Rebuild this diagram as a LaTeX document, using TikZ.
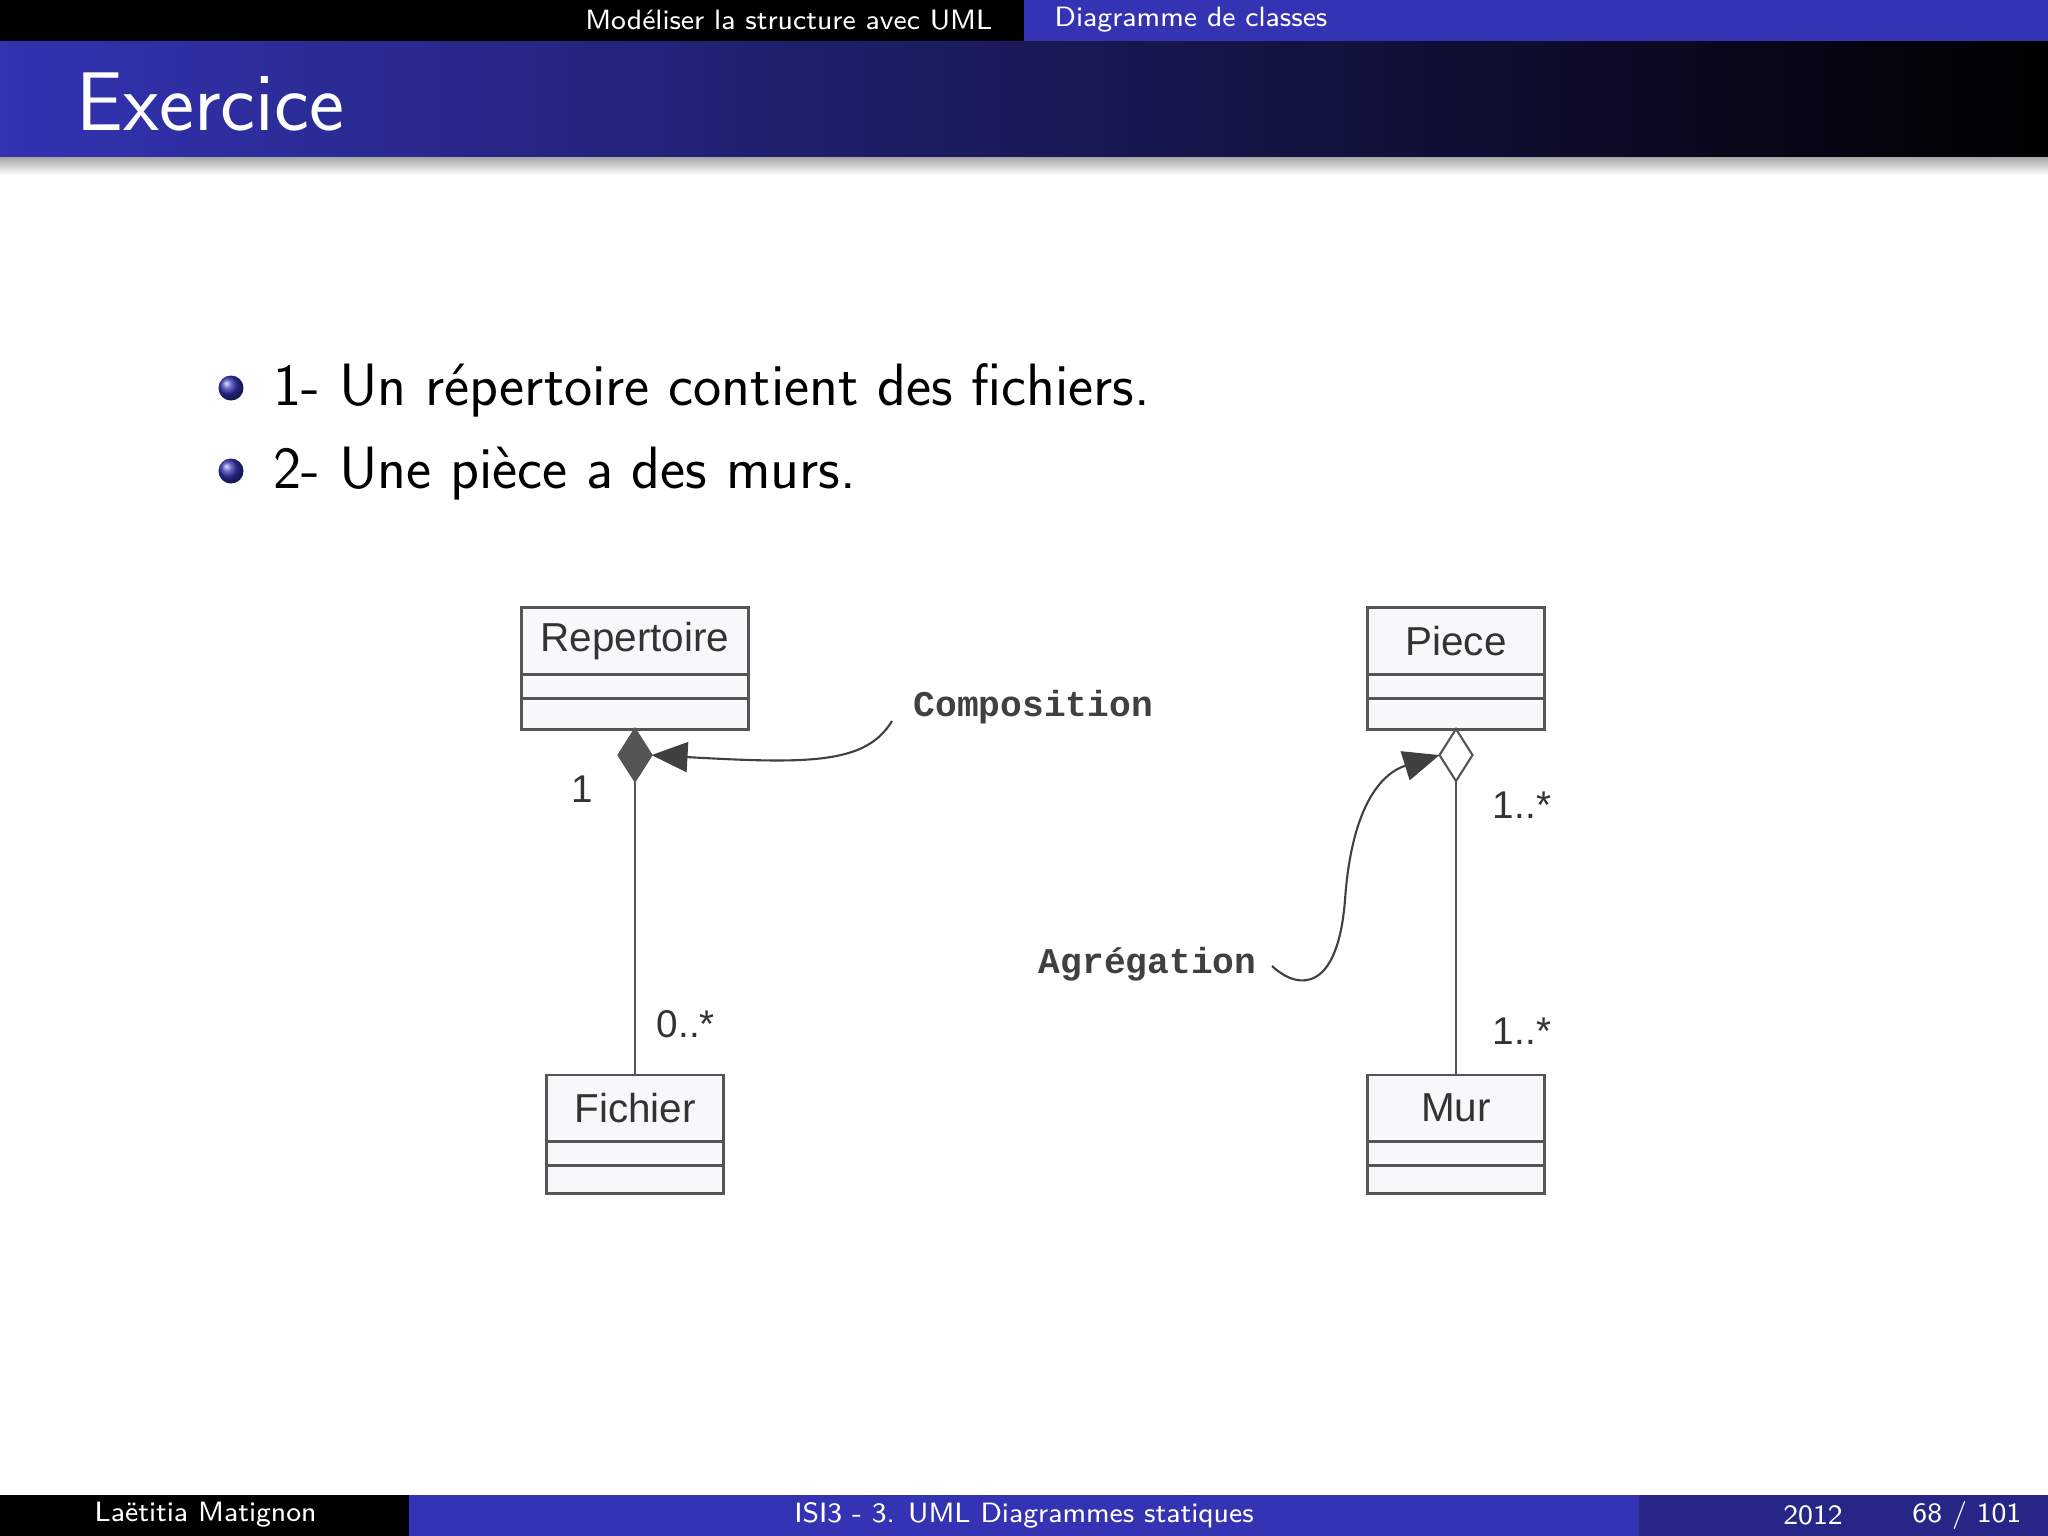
\documentclass[tikz,border=0pt]{standalone}
\usepackage{fontspec}
\newfontfamily\umlfont{Liberation Sans}
\newfontfamily\notefont{Liberation Mono}
\usetikzlibrary{positioning}
\usetikzlibrary{shapes.geometric}
\usetikzlibrary{arrows.meta}
\definecolor{structblue}{RGB}{51,51,179}
\definecolor{footblue}{RGB}{38,38,134}
\definecolor{umlgray}{RGB}{85,85,85}
\definecolor{boxfill}{RGB}{248,247,250}

\begin{document}
\begin{tikzpicture}[x=0.01cm,y=-0.01cm,
  barText/.style={text=white, inner sep=0pt, font=\sffamily\fontsize{7.95}{10}\selectfont},
  bulletText/.style={anchor=base west, inner sep=0pt, font=\sffamily\fontsize{17}{20}\selectfont},
  ballItem/.style={circle, inner sep=0pt, minimum size=0.25cm, shading=ball, ball color=structblue},
  className/.style={draw=umlgray, fill=boxfill, line width=0.85pt, outer sep=0pt, inner sep=0pt,
    minimum height=0.66cm, text=black!80, font=\umlfont\fontsize{11.5}{13}\selectfont},
  compart/.style={draw=umlgray, fill=boxfill, line width=0.85pt, outer sep=0pt, inner sep=0pt},
  compDiam/.style={diamond, draw=umlgray, fill=umlgray, line width=0.6pt, inner sep=0pt, outer sep=0pt,
    minimum width=0.33cm, minimum height=0.52cm},
  aggDiam/.style={compDiam, fill=white},
  assoc/.style={draw=umlgray, line width=0.75pt},
  mult/.style={text=black!80, inner sep=0pt, font=\umlfont\fontsize{11}{13}\selectfont},
  noteText/.style={text=black!75, inner sep=0pt, font=\notefont\bfseries\fontsize{10.3}{12}\selectfont},
  noteArrow/.style={draw=black!75, line width=0.6pt, -{Triangle[length=0.36cm,width=0.3cm]}}]
\useasboundingbox (0,0) rectangle (2048,1536);

% header and title bar
\fill[black] (0,0) rectangle (1024,41);
\fill[structblue] (1024,0) rectangle (2048,41);
\shade[left color=structblue, middle color=structblue!40!black, right color=black] (0,41) rectangle (2048,157);
\shade[top color=black!35, bottom color=white] (0,157) rectangle (2048,175);
\node[barText, anchor=east] (sec) at (993,20) {Modéliser la structure avec UML};
\node[barText, anchor=west] (subsec) at (1054,20) {Diagramme de classes};
\node[text=white, anchor=base west, inner sep=0pt, font=\sffamily\fontsize{23.7}{27}\selectfont] (title) at (76,130) {Exercice};

% items
\node[ballItem] (b1) at (231,388) {};
\node[bulletText] (t1) at (273,405) {1- Un répertoire contient des fichiers.};
\node[ballItem] (b2) at (231,471) {};
\node[bulletText] (t2) at (273,488) {2- Une pièce a des murs.};

% composition
\node[className, minimum width=2.26cm] (rep) at (635,641) {Repertoire};
\node[compart, minimum width=2.26cm, minimum height=0.24cm, below=0pt of rep] (repA) {};
\node[compart, minimum width=2.26cm, minimum height=0.31cm, below=0pt of repA] (repB) {};
\node[compDiam, below=0pt of repB] (repD) {};

\node[className, minimum width=1.76cm] (fich) at (635,1108) {Fichier};
\node[compart, minimum width=1.76cm, minimum height=0.24cm, below=0pt of fich] (fichA) {};
\node[compart, minimum width=1.76cm, minimum height=0.28cm, below=0pt of fichA] (fichB) {};

\draw[assoc] (repD) -- (fich);
\node[mult] (m1) at (582,789) {1};
\node[mult] (m2) at (686,1024) {0..*};

\node[noteText, anchor=west] (comp) at (913,707) {Composition};
\coordinate (compStart) at (892,721);
\draw[noteArrow] (compStart) .. controls (866,764) and (810,764) .. (repD.east);

% aggregation
\node[className, minimum width=1.76cm] (piece) at (1456,641) {Piece};
\node[compart, minimum width=1.76cm, minimum height=0.24cm, below=0pt of piece] (pieceA) {};
\node[compart, minimum width=1.76cm, minimum height=0.31cm, below=0pt of pieceA] (pieceB) {};
\node[aggDiam, below=0pt of pieceB] (pieceD) {};

\node[className, minimum width=1.76cm] (mur) at (1456,1108) {Mur};
\node[compart, minimum width=1.76cm, minimum height=0.24cm, below=0pt of mur] (murA) {};
\node[compart, minimum width=1.76cm, minimum height=0.28cm, below=0pt of murA] (murB) {};

\draw[assoc] (pieceD) -- (mur);
\node[mult] (m3) at (1522,805) {1..*};
\node[mult] (m4) at (1522,1031) {1..*};

\node[noteText, anchor=east] (agr) at (1257,964) {Agrégation};
\coordinate (agrStart) at (1272,966);
\draw[noteArrow] (agrStart) .. controls (1300,992) and (1338,990) .. (1345,900)
  .. controls (1352,800) and (1385,772) .. (pieceD.west);

% footer
\fill[black] (0,1495) rectangle (409,1536);
\fill[structblue] (409,1495) rectangle (1639,1536);
\fill[footblue] (1639,1495) rectangle (2048,1536);
\node[barText, anchor=west] (author) at (94,1515) {Laëtitia Matignon};
\node[barText] (course) at (1024,1515) {ISI3 - 3. UML Diagrammes statiques};
\node[barText] (year) at (1813,1515) {2012};
\node[barText, anchor=east] (page) at (2022,1515) {68 / 101};

\end{tikzpicture}
\end{document}
